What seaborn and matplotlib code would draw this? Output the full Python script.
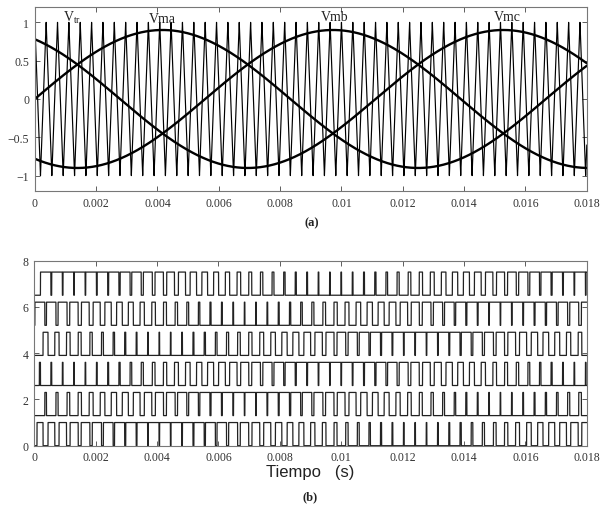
import numpy as np
import pandas as pd
import matplotlib
matplotlib.use("Agg")
import matplotlib.pyplot as plt
import seaborn as sns

# ---------------- data ----------------
fund_freq = 60.0            # Hz, modulating sine waves (peaks at 4.2 ms, 9.7 ms, 15.3 ms)
carrier_freq = 2700.0       # Hz, triangular carrier (about 48.6 periods in 18 ms), starts at +1
mod_amplitude = 0.9         # peak of Vma, Vmb, Vmc
carrier_amplitude = 1.0
phase_names = ["Vma", "Vmb", "Vmc"]
phase_shift_deg = [0.0, -120.0, 120.0]
t_end = 0.018

# gate signals, bottom to top: (phase, upper/lower switch, vertical offset)
gate_phase = ["Vma", "Vmc", "Vmb", "Vma", "Vmc", "Vmb"]
gate_is_upper = [True, False, True, False, True, False]
gate_offset = [0.0, 1.3, 2.6, 3.9, 5.2, 6.5]

x_ticks = [0, 0.002, 0.004, 0.006, 0.008, 0.01, 0.012, 0.014, 0.016, 0.018]
x_tick_labels = ["0", "0.002", "0.004", "0.006", "0.008", "0.01", "0.012", "0.014", "0.016", "0.018"]
ya_ticks = [-1, -0.5, 0, 0.5, 1]
ya_tick_labels = ["\u22121", "\u22120.5", "0", "0.5", "1"]
yb_ticks = [0, 2, 4, 6, 8]
yb_tick_labels = ["0", "2", "4", "6", "8"]

label_text = [r"V$_{\mathrm{tr}}$", "Vma", "Vmb", "Vmc"]
label_x = [0.00091, 0.00415, 0.00979, 0.0154]
label_y = [1.07, 1.05, 1.07, 1.07]
label_ha = ["left", "center", "center", "center"]

# ---------------- signals ----------------
t = np.linspace(0, t_end, 120001)
Tc = 1.0 / carrier_freq
carrier = carrier_amplitude * (4 * np.abs(np.mod(t / Tc, 1.0) - 0.5) - 1)
mods = {n: mod_amplitude * np.sin(2 * np.pi * fund_freq * t + np.deg2rad(p))
        for n, p in zip(phase_names, phase_shift_deg)}

# ---------------- figure ----------------
sns.set_style("ticks")
plt.rcParams["font.family"] = ["Liberation Serif", "DejaVu Serif"]
plt.rcParams["mathtext.fontset"] = "custom"
plt.rcParams["mathtext.rm"] = "Liberation Serif"
plt.rcParams["mathtext.it"] = "Liberation Serif:italic"
plt.rcParams["axes.unicode_minus"] = True

fig = plt.figure(figsize=(6.0, 5.06), dpi=100)
ax1 = fig.add_axes([0.058, 0.6206, 0.920, 0.3636])
ax2 = fig.add_axes([0.057, 0.1172, 0.921, 0.366])

# top panel
sns.lineplot(x=t, y=carrier, ax=ax1, color="black", lw=0.85, estimator=None, sort=False)
for n in phase_names:
    sns.lineplot(x=t, y=mods[n], ax=ax1, color="black", lw=1.7, estimator=None, sort=False)
for txt, lx, ly, ha in zip(label_text, label_x, label_y, label_ha):
    ax1.text(lx, ly, txt, ha=ha, va="center", fontsize=10, color="#222222")

# bottom panel
for ph, up, off in zip(gate_phase, gate_is_upper, gate_offset):
    upper = (mods[ph] > carrier).astype(float)
    if up:
        g = upper
    else:
        g = (1 - upper) * np.maximum.accumulate(upper)
    sns.lineplot(x=t, y=g + off, ax=ax2, color="#222222", lw=0.9, estimator=None, sort=False)

for ax in (ax1, ax2):
    ax.set_xlim(0, t_end)
    ax.set_xticks(x_ticks)
    ax.set_xticklabels(x_tick_labels)
    ax.tick_params(direction="in", length=3.5, width=0.6, top=True, right=True,
                   labelsize=8.5, colors="#444444", labelcolor="#333333", pad=4)
    for s in ax.spines.values():
        s.set_color("#777777")
        s.set_linewidth(0.8)
        s.set_visible(True)
    ax.set_xlabel("")
    ax.set_ylabel("")

ax1.set_ylim(-1.2, 1.2)
ax1.set_yticks(ya_ticks)
ax1.set_yticklabels(ya_tick_labels)
ax2.set_ylim(0, 8)
ax2.set_yticks(yb_ticks)
ax2.set_yticklabels(yb_tick_labels)

fig.text(0.52, 0.559, "(a)", ha="center", va="center", fontsize=9, fontweight="bold", color="#222222")
fig.text(0.517, 0.018, "(b)", ha="center", va="center", fontsize=9, fontweight="bold", color="#222222")
fig.text(0.517, 0.066, "Tiempo   (s)", ha="center", va="center", fontsize=12,
         family=["Liberation Sans", "DejaVu Sans"], color="#222222")

fig.savefig("out.png", dpi=100)
